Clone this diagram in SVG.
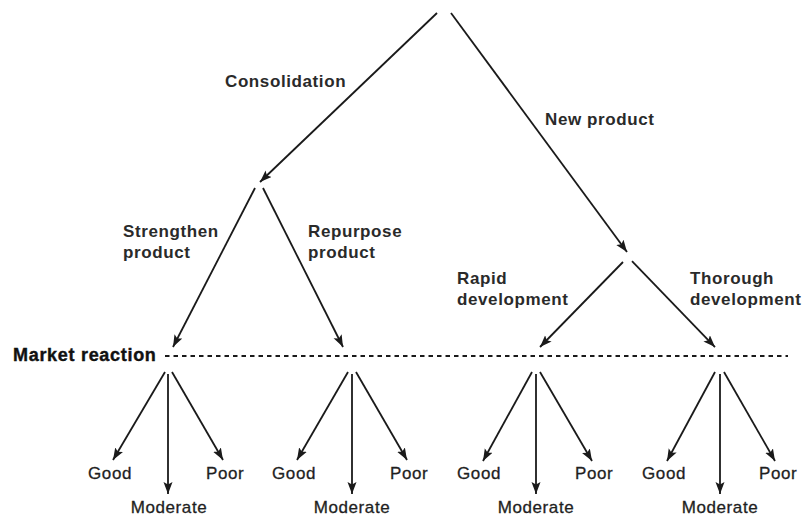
<svg xmlns="http://www.w3.org/2000/svg" width="805" height="516" viewBox="0 0 805 516">
<defs>
<marker id="ah" markerUnits="userSpaceOnUse" markerWidth="13" markerHeight="10" refX="12" refY="4.5" orient="auto">
<path d="M0,0 L12,4.5 L0,9 L2.5,4.5 Z" fill="#1a1a1a"/>
</marker>
</defs>
<style>
.c line{stroke:#1a1a1a;stroke-width:1.8;fill:none}
.a{marker-end:url(#ah)}
.dash{stroke:#1a1a1a;stroke-width:1.6;stroke-dasharray:4.5 4}
text{font-family:"Liberation Sans",Arial,sans-serif;fill:#1f1f1f}
.m{font-size:17px;font-weight:bold;letter-spacing:0.6px;fill:#2a2a2a}
.r{font-size:17px;letter-spacing:0.6px;stroke:#1f1f1f;stroke-width:0.3}
.b{font-size:18px;font-weight:bold;letter-spacing:0.7px;fill:#111;stroke:#111;stroke-width:0.4}
</style>
<rect width="805" height="516" fill="#fff"/>
<g id="connectors" class="c">
<line class="a" x1="437" y1="13" x2="260" y2="182"/>
<line class="a" x1="451" y1="13" x2="627" y2="252"/>
<line class="a" x1="255" y1="188" x2="173" y2="347"/>
<line class="a" x1="263" y1="188" x2="343" y2="347"/>
<line class="a" x1="623" y1="262" x2="540" y2="347"/>
<line class="a" x1="632" y1="261" x2="715" y2="347"/>
<line class="dash" x1="165" y1="356" x2="788" y2="356"/>
<line class="a" x1="165" y1="372" x2="113" y2="460"/>
<line class="a" x1="168" y1="374" x2="168" y2="494"/>
<line class="a" x1="172" y1="372" x2="223" y2="460"/>
<line class="a" x1="348" y1="372" x2="297" y2="460"/>
<line class="a" x1="352" y1="374" x2="352" y2="494"/>
<line class="a" x1="356" y1="372" x2="407" y2="460"/>
<line class="a" x1="532" y1="372" x2="483" y2="461"/>
<line class="a" x1="536" y1="374" x2="536" y2="494"/>
<line class="a" x1="540" y1="372" x2="592" y2="461"/>
<line class="a" x1="715" y1="372" x2="667" y2="461"/>
<line class="a" x1="720" y1="374" x2="720" y2="494"/>
<line class="a" x1="724" y1="372" x2="775" y2="461"/>
</g>
<g id="label-consolidation"><text class="m" x="225" y="87">Consolidation</text></g>
<g id="label-new-product"><text class="m" x="545" y="125">New product</text></g>
<g id="label-strengthen"><text class="m" x="123" y="237">Strengthen</text><text class="m" x="123" y="258">product</text></g>
<g id="label-repurpose"><text class="m" x="308" y="237">Repurpose</text><text class="m" x="308" y="258">product</text></g>
<g id="label-rapid"><text class="m" x="457" y="284">Rapid</text><text class="m" x="457" y="305">development</text></g>
<g id="label-thorough"><text class="m" x="690" y="284">Thorough</text><text class="m" x="690" y="305">development</text></g>
<g id="label-market"><text class="b" x="13" y="361">Market reaction</text></g>
<g id="outcomes-1"><text class="r" x="88" y="479">Good</text><text class="r" x="169" y="513" text-anchor="middle">Moderate</text><text class="r" x="206" y="479">Poor</text></g>
<g id="outcomes-2"><text class="r" x="272" y="479">Good</text><text class="r" x="352" y="513" text-anchor="middle">Moderate</text><text class="r" x="390" y="479">Poor</text></g>
<g id="outcomes-3"><text class="r" x="457" y="479">Good</text><text class="r" x="536" y="513" text-anchor="middle">Moderate</text><text class="r" x="575" y="479">Poor</text></g>
<g id="outcomes-4"><text class="r" x="642" y="479">Good</text><text class="r" x="720" y="513" text-anchor="middle">Moderate</text><text class="r" x="759" y="479">Poor</text></g>
</svg>
